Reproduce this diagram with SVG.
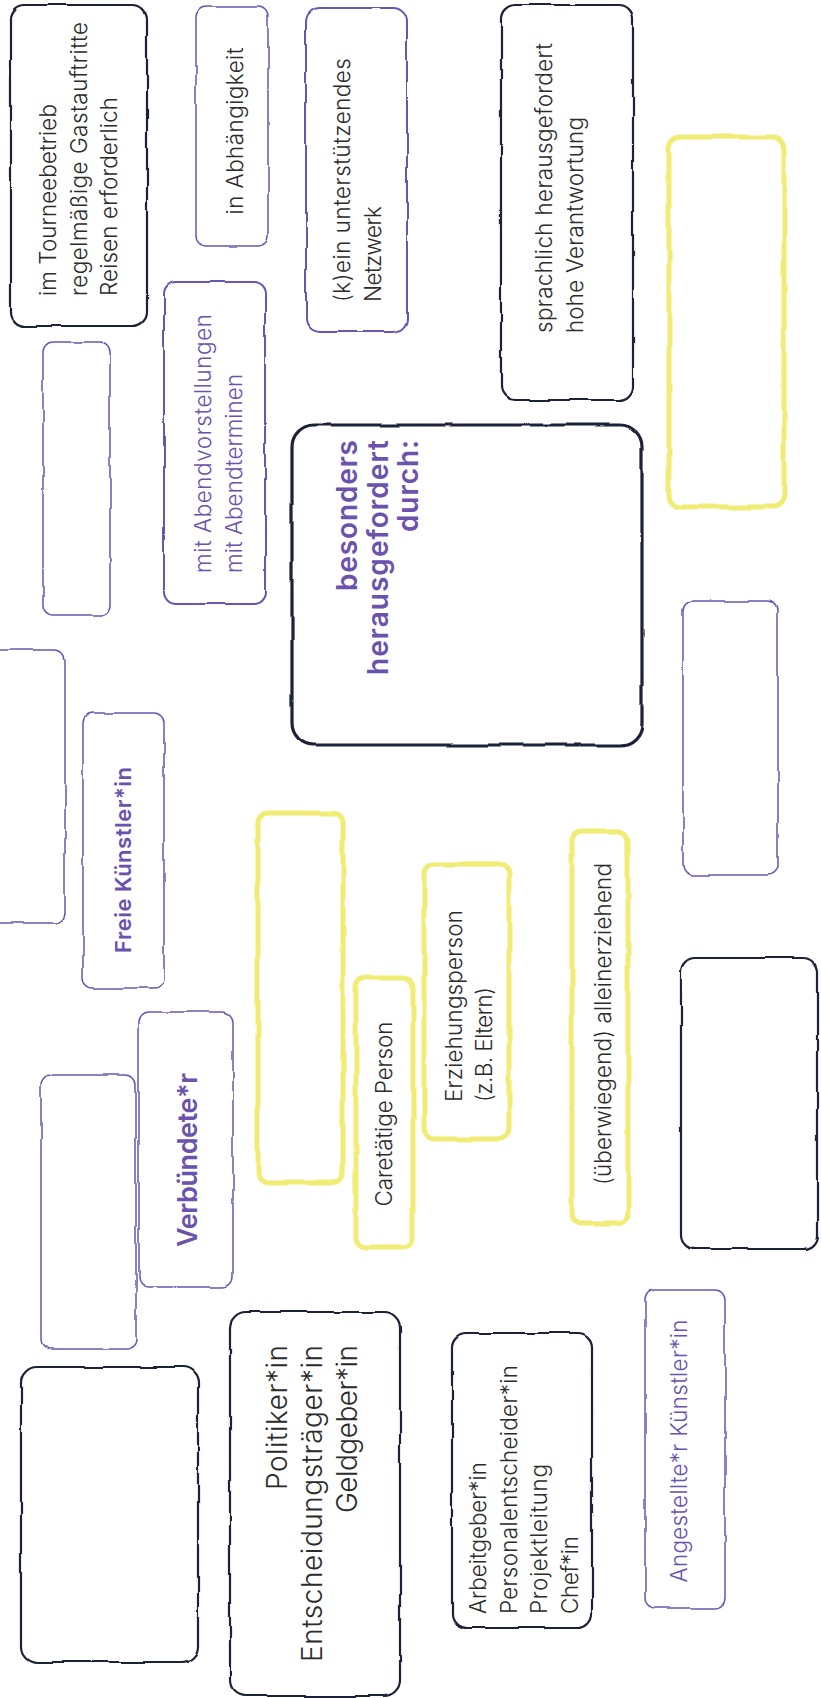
<svg xmlns="http://www.w3.org/2000/svg" width="821" height="1698" viewBox="0 0 821 1698">
<defs>
<filter id="rough" filterUnits="userSpaceOnUse" x="-100" y="-100" width="1021" height="1898">
<feTurbulence type="fractalNoise" baseFrequency="0.025" numOctaves="2" seed="7" result="n"/>
<feDisplacementMap in="SourceGraphic" in2="n" scale="4" xChannelSelector="R" yChannelSelector="G"/>
</filter>
</defs>
<style>
.box{fill:#ffffff;filter:url(#rough)}
.dk{stroke:#1c2039;stroke-width:2.2}
.dk3{stroke:#1c2039;stroke-width:3.2}
.pu{stroke:#6a55b3;stroke-width:1.5}
.pu2{stroke:#6a55b3;stroke-width:2}
.ye{stroke:#f1ec74;stroke-width:5}
text{font-family:Inter,"Noto Sans","Liberation Sans",sans-serif}
.t{font-size:22.5px;font-weight:300;fill:#2b2b2b}
.tp{font-size:22.5px;font-weight:300;fill:#6a52ad}
.b{font-weight:600;fill:#6a52ad}
.big{font-size:28px;font-weight:300;fill:#2b2b2b}
</style>
<rect width="821" height="1698" fill="#ffffff"/>
<g id="connectors"/>

<g id="n-tournee">
<rect class="box dk" x="11" y="5" width="136" height="321" rx="14"/>
<text class="t" transform="translate(56,296) rotate(-90)"><tspan x="0" y="0" textLength="192" lengthAdjust="spacing">im Tourneebetrieb</tspan><tspan x="0" dy="30.5" textLength="274" lengthAdjust="spacing">regelmäßige Gastauftritte</tspan><tspan x="0" dy="30.5" textLength="199" lengthAdjust="spacing">Reisen erforderlich</tspan></text>
</g>

<g id="n-abhaengigkeit">
<rect class="box pu" x="196" y="7" width="72" height="239" rx="10"/>
<text class="t" font-size="23.5" text-anchor="middle" textLength="167" lengthAdjust="spacing" transform="translate(243,131) rotate(-90)">in Abhängigkeit</text>
</g>

<g id="n-netzwerk">
<rect class="box pu2" x="306" y="8" width="101" height="324" rx="14"/>
<text class="t" font-size="23.3" transform="translate(350,302) rotate(-90)"><tspan x="0" y="0" textLength="244" lengthAdjust="spacing">(k)ein unterstützendes</tspan><tspan x="0" dy="31" textLength="96" lengthAdjust="spacing">Netzwerk</tspan></text>
</g>

<g id="n-sprachlich">
<rect class="box dk" x="501" y="5" width="132" height="395" rx="14"/>
<text class="t" font-size="23.3" transform="translate(552,333) rotate(-90)"><tspan x="0" y="0" textLength="290" lengthAdjust="spacing">sprachlich herausgefordert</tspan><tspan x="0" dy="31" textLength="216" lengthAdjust="spacing">hohe Verantwortung</tspan></text>
</g>

<g id="n-yellow-top">
<rect class="box ye" x="669" y="137" width="115" height="370" rx="12"/>
</g>

<g id="n-purple-a">
<rect class="box pu" x="43" y="342" width="67" height="274" rx="10"/>
</g>

<g id="n-abend">
<rect class="box pu2" x="164" y="282" width="101" height="322" rx="12"/>
<text class="tp" font-size="23" transform="translate(211,573) rotate(-90)"><tspan x="0" y="0" textLength="259" lengthAdjust="spacing">mit Abendvorstellungen</tspan><tspan x="0" dy="30.5">mit Abendterminen</tspan></text>
</g>

<g id="n-center">
<rect class="box dk3" x="292" y="425" width="350" height="320" rx="22"/>
<text class="b" font-size="28" text-anchor="end" transform="translate(357,440) rotate(-90)"><tspan x="0" y="0" textLength="151" lengthAdjust="spacing">besonders</tspan><tspan x="0" dy="30.5" textLength="235" lengthAdjust="spacing">herausgefordert</tspan><tspan x="0" dy="30.5" textLength="92" lengthAdjust="spacing">durch:</tspan></text>
</g>

<g id="n-purple-b">
<rect class="box pu" x="683" y="601" width="95" height="274" rx="10"/>
</g>

<g id="n-purple-left">
<rect class="box pu" x="-60" y="650" width="125" height="273" rx="10"/>
</g>

<g id="n-freie">
<rect class="box pu" x="83" y="713" width="81" height="275" rx="10"/>
<text class="b" font-size="22" text-anchor="middle" textLength="186" lengthAdjust="spacing" transform="translate(131,860) rotate(-90)">Freie Künstler*in</text>
</g>

<g id="n-yellow-mid">
<rect class="box ye" x="258" y="813" width="85" height="369" rx="10"/>
</g>

<g id="n-erziehung">
<rect class="box ye" x="424" y="864" width="85" height="275" rx="10"/>
<text class="t" transform="translate(462,1102) rotate(-90)"><tspan x="0" y="0" textLength="192" lengthAdjust="spacing">Erziehungsperson</tspan><tspan x="0" dy="30" textLength="115" lengthAdjust="spacing">(z.B. Eltern)</tspan></text>
</g>

<g id="n-ueberwiegend">
<rect class="box ye" x="572" y="831" width="56" height="392" rx="10"/>
<text class="t" text-anchor="middle" textLength="322" lengthAdjust="spacing" transform="translate(611,1024) rotate(-90)">(überwiegend) alleinerziehend</text>
</g>

<g id="n-dark-right">
<rect class="box dk" x="681" y="958" width="136" height="291" rx="14"/>
</g>

<g id="n-verbuendete">
<rect class="box pu" x="139" y="1012" width="94" height="275" rx="10"/>
<text class="b" font-size="27" text-anchor="middle" textLength="174" lengthAdjust="spacing" transform="translate(197,1160) rotate(-90)">Verbündete*r</text>
</g>

<g id="n-care">
<rect class="box ye" x="356" y="977" width="57" height="271" rx="10"/>
<text class="t" text-anchor="middle" textLength="185" lengthAdjust="spacing" transform="translate(392,1114) rotate(-90)">Caretätige Person</text>
</g>

<g id="n-purple-c">
<rect class="box pu" x="41" y="1075" width="95" height="274" rx="10"/>
</g>

<g id="n-dark-left">
<rect class="box dk" x="21" y="1367" width="177" height="295" rx="16"/>
</g>

<g id="n-politik">
<rect class="box dk" x="230" y="1312" width="170" height="384" rx="16"/>
<text class="big" text-anchor="end" transform="translate(287,1345) rotate(-90)"><tspan x="0" y="0" textLength="145" lengthAdjust="spacing">Politiker*in</tspan><tspan x="0" dy="35" textLength="317" lengthAdjust="spacing">Entscheidungsträger*in</tspan><tspan x="0" dy="35" textLength="168" lengthAdjust="spacing">Geldgeber*in</tspan></text>
</g>

<g id="n-arbeitgeber">
<rect class="box dk" x="452" y="1333" width="140" height="295" rx="14"/>
<text class="t" transform="translate(486,1614) rotate(-90)"><tspan x="0" y="0" textLength="152" lengthAdjust="spacing">Arbeitgeber*in</tspan><tspan x="0" dy="30.7" textLength="249" lengthAdjust="spacing">Personalentscheider*in</tspan><tspan x="0" dy="30.7" textLength="150" lengthAdjust="spacing">Projektleitung</tspan><tspan x="0" dy="30.7" textLength="78" lengthAdjust="spacing">Chef*in</tspan></text>
</g>

<g id="n-angestellte">
<rect class="box pu" x="645" y="1290" width="80" height="318" rx="10"/>
<text class="tp" text-anchor="middle" textLength="263" lengthAdjust="spacing" transform="translate(687,1451) rotate(-90)">Angestellte*r Künstler*in</text>
</g>
</svg>
